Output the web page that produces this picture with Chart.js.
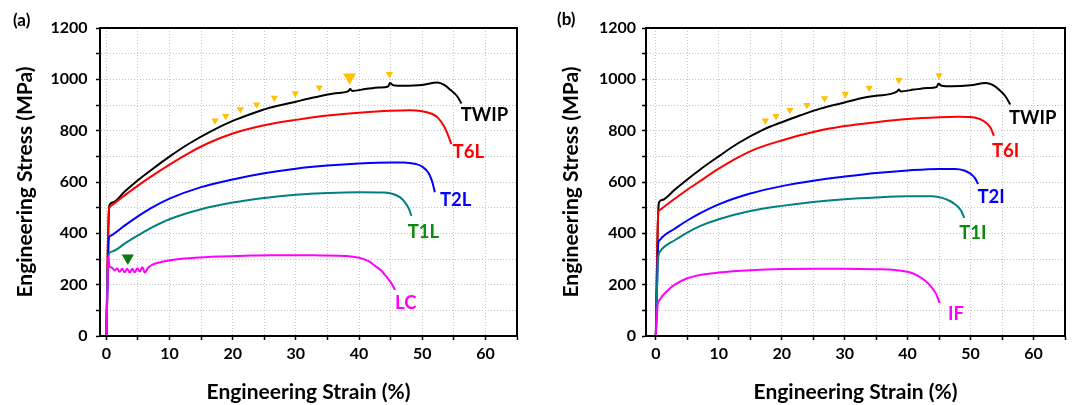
<!DOCTYPE html>
<html><head><meta charset="utf-8">
<script src="https://cdn.jsdelivr.net/npm/chart.js@4.4.0/dist/chart.umd.min.js"></script>
<style>
html,body{margin:0;padding:0;background:#fff;}
#wrap{position:relative;width:1072px;height:405px;overflow:hidden;background:#fff;}
.panel{position:absolute;top:0;width:536px;height:405px;}
.plabel{position:absolute;font-family:Lato,"Open Sans",sans-serif;font-weight:bold;color:#000;line-height:1;font-size:17px;}
</style></head><body>
<div id="wrap">
<div class="panel" style="left:0"><canvas id="ca" width="536" height="405"></canvas></div>
<div class="panel" style="left:536px"><canvas id="cb" width="536" height="405"></canvas></div>
<div class="plabel" style="left:13px;top:11px">(a)</div>
<div class="plabel" style="left:557px;top:10px">(b)</div>
</div>
<script>
// ---------- axis ticks ----------
const strainTicks = [0,5,10,15,20,25,30,35,40,45,50,55,60,65];
const stressTicks = [0,100,200,300,400,500,600,700,800,900,1000,1100,1200];

// ---------- panel (a) ----------
const twipA_x = [0,0.3,0.5,1,3,5,7,10,13,17,20,23,26,30,33,36,38.3,38.6,38.9,41,43.2,44.6,44.9,45.4,47,50,52.4,53.5,54.5,55.5,56.2];
const twipA_y = [0,400,510,520,565,607,645,699,748,803,838,866,890,913,930,945,954,962,955,962,968,972,986,977,975,978,988,978,958,935,906];
const t6L_x = [0,0.2,0.4,0.6,1,3,5,7,10,13,16,20,25,30,35,40,45,48,50,51.5,52.5,53.5,54.2,54.6];
const t6L_y = [0,300,490,505,512,550,586,620,668,712,750,789,821,842,859,870,878,880,876,866,850,815,775,748];
const t2L_x = [0,0.2,0.4,0.6,1,3,5,7,10,15,20,25,30,35,40,45,47,49,50,51,51.6,52];
const t2L_y = [0,200,380,390,395,432,466,497,535,580,610,634,652,664,672,676,676,670,660,635,600,560];
const t1L_x = [0,0.2,0.4,1,3,5,7,10,15,20,25,30,35,40,44,45.5,46.5,47.3,47.9,48.3];
const t1L_y = [0,250,320,330,362,392,420,455,494,520,538,550,557,560,559,552,540,520,495,468];
const lc_x = [0,0.2,0.3,0.5,0.9,1.3,1.7,2.1,2.5,2.9,3.3,3.7,4.1,4.5,4.9,5.3,5.7,6.1,6.6,7.5,9,11,14,18,22,26,30,34,38,40,41.5,42.6,43.5,44.2,45,45.7];
const lc_y = [0,200,310,272,266,256,263,250,262,248,262,247,262,248,264,251,268,247,266,280,290,298,305,310,313,315,315,314,312,305,292,272,255,235,210,180];
const orangeA_x = [17.2,18.9,21.2,23.8,26.6,29.9,33.7,38.5,44.8];
const orangeA_y = [839,857,883,902,928,945,968,1008,1020];
const greenA_x = [3.4];
const greenA_y = [304];
const labelsA = ['TWIP','T6L','T2L','T1L','LC'];
const labelsA_x = [56.1,54.8,52.8,47.7,45.7];
const labelsA_y = [861,718,531,406,130];

// ---------- panel (b) ----------
const twipB_x = [0,0.3,0.5,1,3,5,7,10,13,17,20,23,26,30,33,35,38.3,38.6,38.9,41,43.2,44.6,44.9,45.4,47,50,52.4,53.5,54.5,55.5,56.3];
const twipB_y = [0,420,520,530,570,610,648,700,750,803,833,860,885,910,928,936,952,960,953,960,966,970,983,975,973,977,986,978,960,935,902];
const t6I_x = [0,0.2,0.4,0.7,1,3,5,7,10,13,16,20,25,30,35,40,45,48,50,51.5,52.5,53.2,53.7];
const t6I_y = [0,300,485,492,498,535,570,603,652,695,730,762,795,818,833,845,852,854,853,845,830,810,780];
const t2I_x = [0,0.2,0.4,0.7,1,3,5,7,10,15,20,25,30,35,40,45,47.5,49,50,50.7,51.2];
const t2I_y = [0,200,365,375,385,418,450,478,513,555,584,605,621,635,645,651,651,645,632,615,592];
const t1I_x = [0,0.2,0.4,0.7,1,3,5,7,10,15,20,25,30,35,40,44,45.5,46.8,47.8,48.5,49];
const t1I_y = [0,200,310,330,340,373,403,428,455,487,507,522,533,540,544,544,538,525,508,488,460];
const if_x = [0,0.15,0.3,0.6,1,2,3,5,7,10,15,20,25,30,35,38,40,41.5,42.8,43.8,44.5,45.1];
const if_y = [0,60,125,140,155,180,200,225,238,247,256,261,262,262,260,257,250,236,215,190,165,128];
const orangeB_x = [17.4,19.1,21.3,24.0,26.8,30.1,33.9,38.6,45.0];
const orangeB_y = [839,857,880,900,926,942,967,997,1016];
const labelsB = ['TWIP','T6I','T2I','T1I','IF'];
const labelsB_x = [56.1,53.4,51.1,48.2,46.4];
const labelsB_y = [849,722,543,402,84];

// ---------- styling ----------
const FONT = 'Lato, "Open Sans", sans-serif';
const lineColors = ['#000000','#ff0000','#0000ff','#008080','#ff00ff'];
const labelColors = ['#000000','#ff0000','#0000ff','#0a8a0a','#ff00ff'];

function pts(xs, ys){ return xs.map((x,i)=>({x:x,y:ys[i]})); }

function lineDs(xs, ys, color){
  return {data:pts(xs,ys), showLine:true, borderColor:color, backgroundColor:color,
    borderWidth:2, pointRadius:0, cubicInterpolationMode:'monotone', order:2};
}
function markDs(xs, ys, color, radiusFn){
  return {data:pts(xs,ys), showLine:false, pointStyle:'triangle', rotation:180,
    pointRadius:radiusFn, pointBackgroundColor:color, pointBorderColor:color, pointBorderWidth:0, order:1};
}

function makeScales(xMin, xMax, yWidth, yTickPad, yTitlePad){
  return {
    x:{type:'linear', min:xMin, max:xMax,
      afterBuildTicks:s=>{ s.ticks = strainTicks.filter(v=>v<=xMax).map(v=>({value:v})); },
      ticks:{callback:v=>(v%10===0 && v<=60 ? String(v) : ''), autoSkip:false, maxRotation:0,
        font:{family:FONT, weight:'bold', size:16}, color:'#000', padding:4},
      grid:{color:'#c4c4c4', lineWidth:1, tickLength:4, tickColor:'#000', tickWidth:1.5},
      border:{display:true, color:'#000', width:2, dash:[1,2]},
      title:{display:true, text:'Engineering Strain (%)', color:'#000',
        font:{family:FONT, weight:'bold', size:21}, padding:{top:0, bottom:0}},
      afterFit:s=>{ s.height = 69; }
    },
    y:{type:'linear', min:0, max:1200,
      afterBuildTicks:s=>{ s.ticks = stressTicks.map(v=>({value:v})); },
      ticks:{callback:v=>(v%200===0 ? String(v) : ''), autoSkip:false,
        font:{family:FONT, weight:'bold', size:16}, color:'#000', padding:yTickPad},
      grid:{color:'#c4c4c4', lineWidth:1, tickLength:4, tickColor:'#000', tickWidth:1.5},
      border:{display:true, color:'#000', width:2, dash:[1,2]},
      title:{display:true, text:'Engineering Stress (MPa)', color:'#000',
        font:{family:FONT, weight:'bold', size:21}, padding:{top:yTitlePad, bottom:0}},
      afterFit:s=>{ s.width = yWidth; }
    }
  };
}

function framePlugin(texts, tx, ty){
  return {id:'frameAndLabels',
    afterDraw(chart){
      const {ctx, chartArea:a, scales} = chart;
      ctx.save();
      ctx.strokeStyle = '#000'; ctx.lineWidth = 2;
      ctx.strokeRect(a.left, a.top, a.right - a.left, a.bottom - a.top);
      ctx.font = 'bold 18.5px ' + FONT;
      ctx.textAlign = 'left'; ctx.textBaseline = 'middle';
      texts.forEach((t,i)=>{
        ctx.fillStyle = labelColors[i];
        ctx.fillText(t, scales.x.getPixelForValue(tx[i]), scales.y.getPixelForValue(ty[i]));
      });
      ctx.restore();
    }};
}

function baseOptions(xMin, xMax, yWidth, yTickPad, yTitlePad, padRight){
  return {responsive:false, animation:false, devicePixelRatio:1,
    layout:{padding:{left:0, right:padRight, top:28, bottom:0}},
    plugins:{legend:{display:false}, tooltip:{enabled:false}},
    scales:makeScales(xMin, xMax, yWidth, yTickPad, yTitlePad)};
}

new Chart(document.getElementById('ca'), {
  type:'scatter',
  data:{datasets:[
    lineDs(lc_x, lc_y, lineColors[4]),
    lineDs(t1L_x, t1L_y, lineColors[3]),
    lineDs(t2L_x, t2L_y, lineColors[2]),
    lineDs(t6L_x, t6L_y, lineColors[1]),
    lineDs(twipA_x, twipA_y, lineColors[0]),
    markDs(orangeA_x, orangeA_y, '#ffc000', c=>(c.dataIndex===7 ? 7.5 : 4.2)),
    markDs(greenA_x, greenA_y, '#0a7a0a', 7)
  ]},
  options:baseOptions(-1, 65, 100, 8.5, 12.4, 19),
  plugins:[framePlugin(labelsA, labelsA_x, labelsA_y)]
});

new Chart(document.getElementById('cb'), {
  type:'scatter',
  data:{datasets:[
    lineDs(if_x, if_y, lineColors[4]),
    lineDs(t1I_x, t1I_y, lineColors[3]),
    lineDs(t2I_x, t2I_y, lineColors[2]),
    lineDs(t6I_x, t6I_y, lineColors[1]),
    lineDs(twipB_x, twipB_y, lineColors[0]),
    markDs(orangeB_x, orangeB_y, '#ffc000', 4.2)
  ]},
  options:baseOptions(-1.56, 65, 110, 6, 22.4, 7),
  plugins:[framePlugin(labelsB, labelsB_x, labelsB_y)]
});
</script>
</body></html>
